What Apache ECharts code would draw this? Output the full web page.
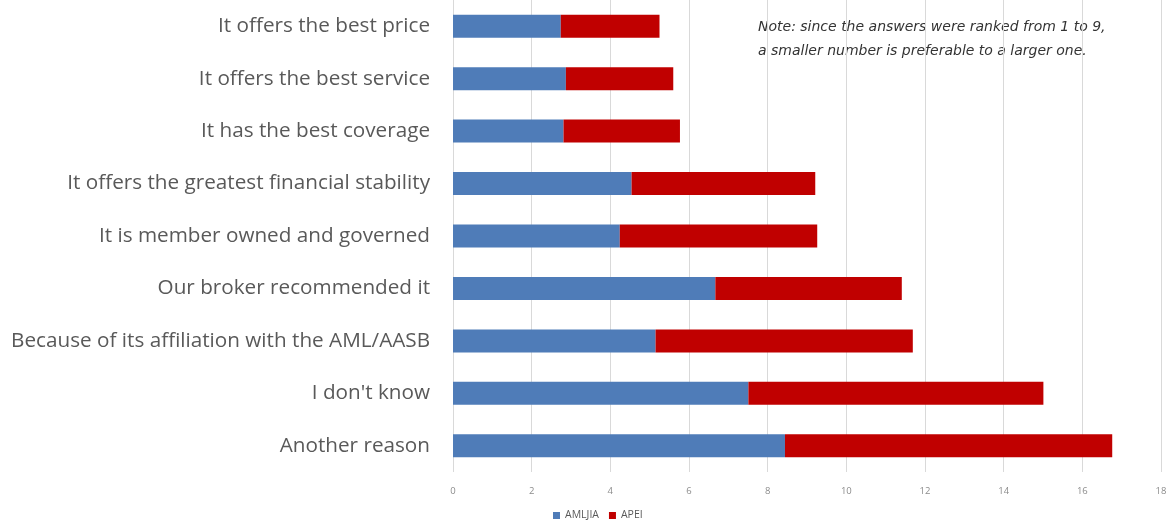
<!DOCTYPE html>
<html>
<head>
<meta charset="utf-8">
<script src="https://cdn.jsdelivr.net/npm/echarts@6/dist/echarts.min.js"></script>
<style>html,body{margin:0;padding:0;background:#fff}#c{width:1174px;height:523px}</style>
</head>
<body>
<div id="c"></div>
<script>
const categories = [
  "It offers the best price",
  "It offers the best service",
  "It has the best coverage",
  "It offers the greatest financial stability",
  "It is member owned and governed",
  "Our broker recommended it",
  "Because of its affiliation with the AML/AASB",
  "I don't know",
  "Another reason"
];
const amljia = [2.74, 2.87, 2.81, 4.54, 4.24, 6.67, 5.15, 7.51, 8.44];
const apei = [2.51, 2.73, 2.96, 4.67, 5.02, 4.74, 6.54, 7.50, 8.32];
const noteLines = [
  "Note: since the answers were ranked from 1 to 9,",
  "a smaller number is preferable to a larger one."
];

const chart = echarts.init(document.getElementById('c'));
chart.setOption({
  animation: false,
  grid: { left: 453, right: 13, top: 0, bottom: 51, containLabel: false },
  legend: {
    bottom: -3, left: 548,
    itemWidth: 7, itemHeight: 7, itemGap: 10,
    icon: 'rect',
    textStyle: { color: '#595959', fontSize: 10.5, fontFamily: 'Open Sans' },
    data: ['AMLJIA', 'APEI']
  },
  xAxis: {
    type: 'value', min: 0, max: 18, interval: 2,
    axisLine: { show: false }, axisTick: { show: false },
    splitLine: { lineStyle: { color: '#d9d9d9', width: 1 } },
    axisLabel: { color: '#8c8c8c', fontSize: 9.5, margin: 14, fontFamily: 'Open Sans' }
  },
  yAxis: {
    type: 'category', data: categories, inverse: true,
    axisLine: { show: false }, axisTick: { show: false },
    axisLabel: { color: '#595959', fontSize: 20.7, margin: 23, fontFamily: 'Open Sans' }
  },
  series: [
    { name: 'AMLJIA', type: 'bar', stack: 's', data: amljia, barWidth: 23,
      itemStyle: { color: '#4f7cb8' } },
    { name: 'APEI', type: 'bar', stack: 's', data: apei, barWidth: 23,
      itemStyle: { color: '#c00000' } }
  ],
  graphic: noteLines.map((t, i) => ({
    type: 'text', left: 758, top: 20 + i * 24,
    style: { text: t, fill: '#333', font: 'italic 14px "DejaVu Sans"' }
  }))
});
</script>
</body>
</html>
